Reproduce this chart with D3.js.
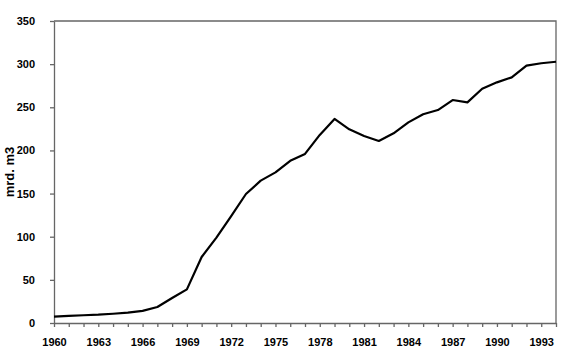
<!DOCTYPE html>
<html><head><meta charset="utf-8">
<script src="https://cdn.jsdelivr.net/npm/d3@7"></script>
<style>body{margin:0;background:#fff}svg{display:block}text{font-family:"Liberation Sans",Arial,sans-serif}</style>
</head><body>
<script>
const years = d3.range(1960, 1995);
const values = [7.5, 8.2, 9, 9.6, 10.7, 12, 14, 18.5, 29, 39, 76.5, 99, 124, 149.5, 165, 174.6, 188, 196, 218, 236.5, 224.5, 216.7, 211, 219.8, 232.5, 242, 246.8, 258.4, 255.7, 271.5, 278.9, 284.7, 298.2, 301, 302.8];
const yTicks = [0, 50, 100, 150, 200, 250, 300, 350];
const xLabelYears = [1960, 1963, 1966, 1969, 1972, 1975, 1978, 1981, 1984, 1987, 1990, 1993];
const yTitle = "mrd. m3";

const W = 579, H = 358;
const m = {l: 54, t: 21, r: 23, b: 35};
const svg = d3.select("body").append("svg").attr("width", W).attr("height", H);
const x = d3.scaleLinear().domain([1960, 1994]).range([m.l, W - m.r]);
const y = d3.scaleLinear().domain([0, 350]).range([H - m.b, m.t]);
const axisColor = "#666";

// frame top/right
svg.append("path").attr("d", `M${x(1960)},${y(350)}H${x(1994)}V${y(0)}`)
  .attr("fill", "none").attr("stroke", axisColor).attr("stroke-width", 1.3);

const gx = svg.append("g").attr("transform", `translate(0,${y(0)})`)
  .call(d3.axisBottom(x).tickValues(years).tickSize(4).tickSizeOuter(0)
    .tickFormat(d => xLabelYears.includes(d) ? d : ""));
const gy = svg.append("g").attr("transform", `translate(${x(1960)},0)`)
  .call(d3.axisLeft(y).tickValues(yTicks).tickSize(4).tickSizeOuter(0));
[gx, gy].forEach(g => {
  g.selectAll("path,line").attr("stroke", axisColor).attr("stroke-width", 1.3);
  g.selectAll("text").attr("fill", "#000").attr("font-size", 11).attr("font-weight", "bold")
    .attr("font-family", "'Liberation Sans', Arial, sans-serif");
});
gx.selectAll("text").attr("dy", "0").attr("y", 23);
gy.selectAll("text").attr("x", -19);

svg.append("text").attr("transform", `translate(14,${(y(0) + y(350)) / 2}) rotate(-90)`)
  .attr("text-anchor", "middle").attr("font-size", 13).attr("font-weight", "bold").text(yTitle);

svg.append("path").datum(values)
  .attr("d", d3.line().x((d, i) => x(years[i])).y(d => y(d)))
  .attr("fill", "none").attr("stroke", "#000").attr("stroke-width", 2.2)
  .attr("stroke-linejoin", "round");
</script>
</body></html>
